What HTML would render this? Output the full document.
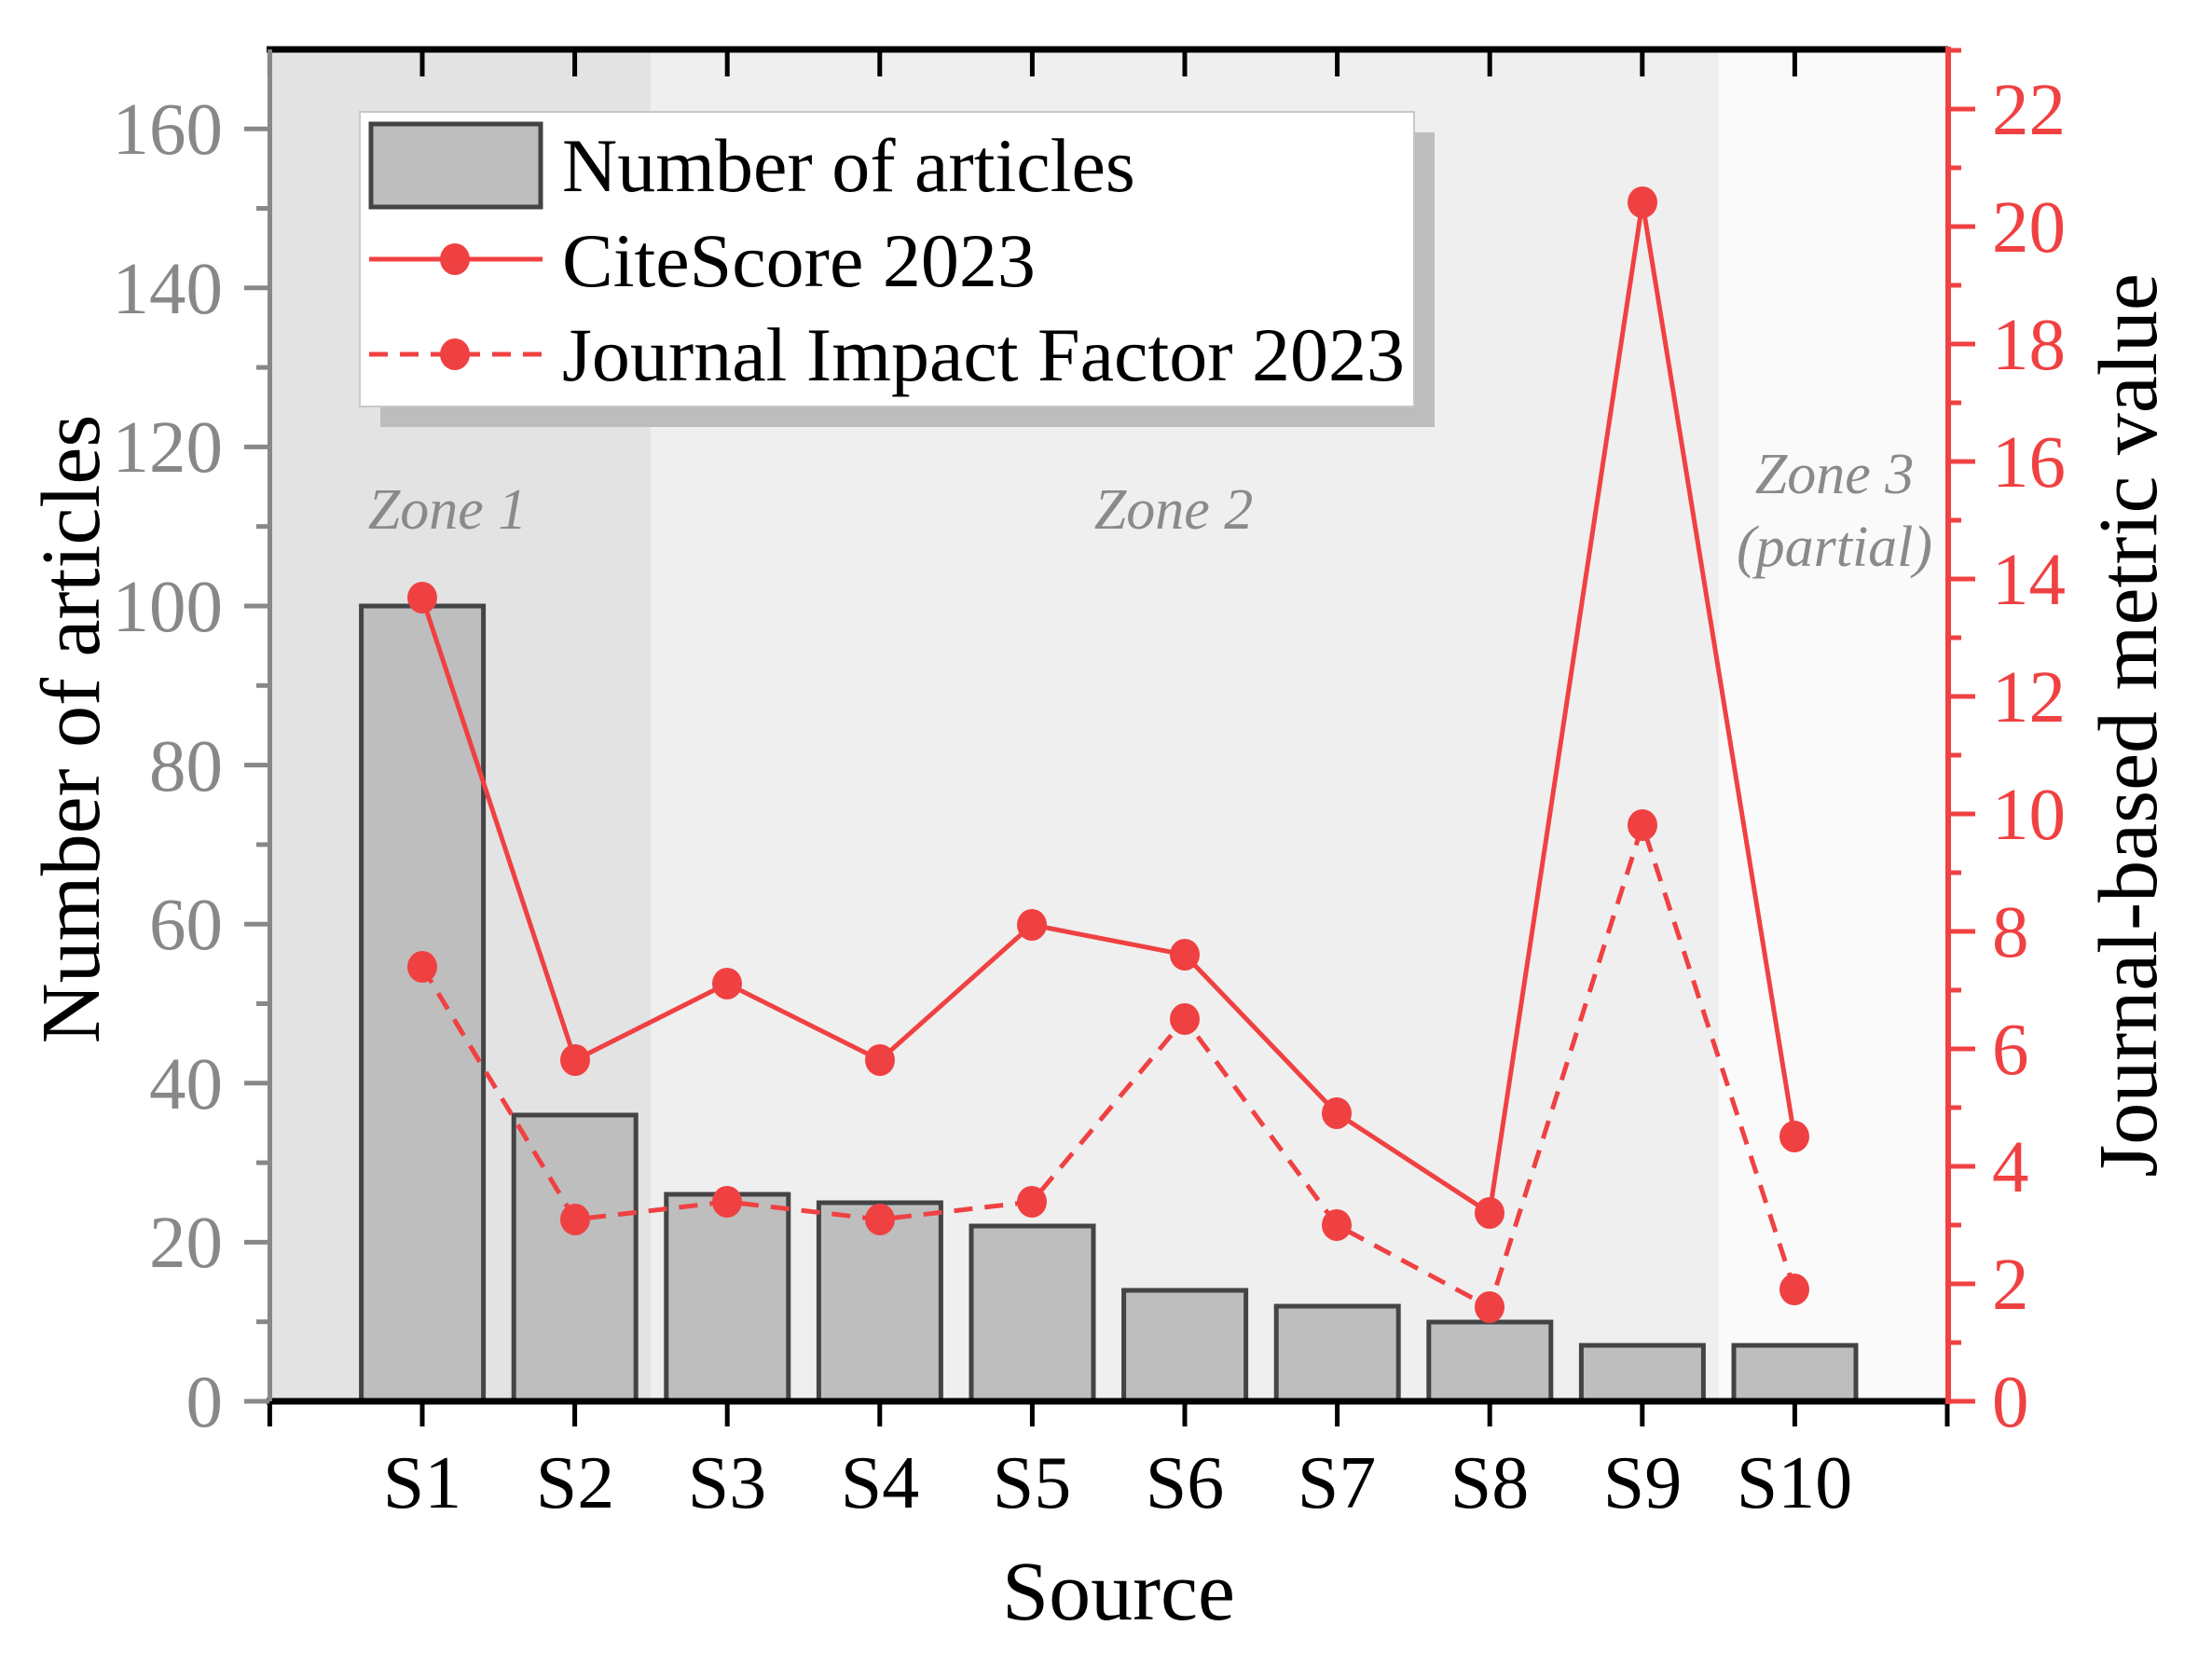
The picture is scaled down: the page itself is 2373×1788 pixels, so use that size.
<!DOCTYPE html>
<html><head><meta charset="utf-8"><style>html,body{margin:0;padding:0;background:#fff}svg{display:block}</style></head>
<body>
<svg width="2373" height="1788" viewBox="0 0 2373 1788" xmlns="http://www.w3.org/2000/svg" font-family="'Liberation Serif', serif">
<!-- zones -->
<rect x="289" y="53" width="409" height="1450" fill="#e3e3e3"/>
<rect x="698" y="53" width="1146" height="1450" fill="#efefef"/>
<rect x="1844" y="53" width="246" height="1450" fill="#fafafa"/>
<!-- zone labels -->
<g font-style="italic" fill="#8a8a8a" font-size="62" text-anchor="middle">
<text x="480" y="567">Zone 1</text>
<text x="1259" y="567">Zone 2</text>
<text x="1968" y="529">Zone 3</text>
<text x="1968" y="607">(partial)</text>
</g>
<!-- bars -->
<g fill="#bebebe" stroke="#444" stroke-width="5">
<rect x="387.6" y="650" width="131" height="853"/>
<rect x="551.2" y="1196" width="131" height="307"/>
<rect x="714.8" y="1281" width="131" height="222"/>
<rect x="878.4" y="1290" width="131" height="213"/>
<rect x="1042" y="1315" width="131" height="188"/>
<rect x="1205.6" y="1384" width="131" height="119"/>
<rect x="1369.2" y="1401" width="131" height="102"/>
<rect x="1532.8" y="1418" width="131" height="85"/>
<rect x="1696.4" y="1443" width="131" height="60"/>
<rect x="1860" y="1443" width="131" height="60"/>
</g>
<!-- lines -->
<g fill="none" stroke="#f04142" stroke-width="5">
<polyline points="453,641 617,1137 780,1055 944,1137 1107,992 1271,1024 1434,1194 1598,1301 1762,217 1925,1219"/>
<polyline stroke-dasharray="20,13" points="453,1037 617,1308 780,1289 944,1308 1107,1289 1271,1093 1434,1314 1598,1402 1762,885 1925,1383"/>
</g>
<g fill="#f04142">
<ellipse cx="453" cy="641" rx="16" ry="17"/><ellipse cx="617" cy="1137" rx="16" ry="17"/><ellipse cx="780" cy="1055" rx="16" ry="17"/><ellipse cx="944" cy="1137" rx="16" ry="17"/><ellipse cx="1107" cy="992" rx="16" ry="17"/><ellipse cx="1271" cy="1024" rx="16" ry="17"/><ellipse cx="1434" cy="1194" rx="16" ry="17"/><ellipse cx="1598" cy="1301" rx="16" ry="17"/><ellipse cx="1762" cy="217" rx="16" ry="17"/><ellipse cx="1925" cy="1219" rx="16" ry="17"/>
<ellipse cx="453" cy="1037" rx="16" ry="17"/><ellipse cx="617" cy="1308" rx="16" ry="17"/><ellipse cx="780" cy="1289" rx="16" ry="17"/><ellipse cx="944" cy="1308" rx="16" ry="17"/><ellipse cx="1107" cy="1289" rx="16" ry="17"/><ellipse cx="1271" cy="1093" rx="16" ry="17"/><ellipse cx="1434" cy="1314" rx="16" ry="17"/><ellipse cx="1598" cy="1402" rx="16" ry="17"/><ellipse cx="1762" cy="885" rx="16" ry="17"/><ellipse cx="1925" cy="1383" rx="16" ry="17"/>
</g>
<!-- legend -->
<rect x="408" y="142" width="1131" height="316" fill="#bdbdbd"/>
<rect x="386" y="120" width="1131" height="316" fill="#fff" stroke="#c8c8c8" stroke-width="2"/>
<rect x="398" y="133" width="182" height="89" fill="#bebebe" stroke="#444" stroke-width="5"/>
<line x1="396" y1="278" x2="582" y2="278" stroke="#f04142" stroke-width="5"/>
<ellipse cx="488" cy="278" rx="16" ry="17" fill="#f04142"/>
<line x1="396" y1="380" x2="582" y2="380" stroke="#f04142" stroke-width="5" stroke-dasharray="20,13"/>
<ellipse cx="488" cy="380" rx="16" ry="17" fill="#f04142"/>
<g font-size="82" fill="#000">
<text x="603" y="205">Number of articles</text>
<text x="603" y="307">CiteScore 2023</text>
<text x="603" y="408">Journal Impact Factor 2023</text>
</g>
<!-- top axis -->
<line x1="286" y1="53" x2="2090" y2="53" stroke="#000" stroke-width="7"/>
<g stroke="#000" stroke-width="5">
<line x1="289.4" y1="53" x2="289.4" y2="82"/><line x1="453" y1="53" x2="453" y2="82"/><line x1="616.6" y1="53" x2="616.6" y2="82"/><line x1="780.2" y1="53" x2="780.2" y2="82"/><line x1="943.8" y1="53" x2="943.8" y2="82"/><line x1="1107.4" y1="53" x2="1107.4" y2="82"/><line x1="1271" y1="53" x2="1271" y2="82"/><line x1="1434.6" y1="53" x2="1434.6" y2="82"/><line x1="1598.2" y1="53" x2="1598.2" y2="82"/><line x1="1761.8" y1="53" x2="1761.8" y2="82"/><line x1="1925.4" y1="53" x2="1925.4" y2="82"/>
</g>
<!-- bottom axis -->
<line x1="286" y1="1503" x2="2090" y2="1503" stroke="#000" stroke-width="7"/>
<g stroke="#000" stroke-width="5">
<line x1="289.4" y1="1503" x2="289.4" y2="1530"/><line x1="453" y1="1503" x2="453" y2="1530"/><line x1="616.6" y1="1503" x2="616.6" y2="1530"/><line x1="780.2" y1="1503" x2="780.2" y2="1530"/><line x1="943.8" y1="1503" x2="943.8" y2="1530"/><line x1="1107.4" y1="1503" x2="1107.4" y2="1530"/><line x1="1271" y1="1503" x2="1271" y2="1530"/><line x1="1434.6" y1="1503" x2="1434.6" y2="1530"/><line x1="1598.2" y1="1503" x2="1598.2" y2="1530"/><line x1="1761.8" y1="1503" x2="1761.8" y2="1530"/><line x1="1925.4" y1="1503" x2="1925.4" y2="1530"/><line x1="2089" y1="1503" x2="2089" y2="1530"/>
</g>
<g font-size="80" text-anchor="middle" fill="#000">
<text x="453" y="1617">S1</text><text x="617" y="1617">S2</text><text x="780" y="1617">S3</text><text x="944" y="1617">S4</text><text x="1107" y="1617">S5</text><text x="1271" y="1617">S6</text><text x="1434" y="1617">S7</text><text x="1598" y="1617">S8</text><text x="1762" y="1617">S9</text><text x="1925" y="1617">S10</text>
</g>
<text x="1200" y="1737" font-size="90" text-anchor="middle">Source</text>
<!-- left axis -->
<line x1="289.5" y1="53" x2="289.5" y2="1503" stroke="#888" stroke-width="5"/>
<g stroke="#888" stroke-width="5">
<line x1="262" y1="1503" x2="289" y2="1503"/><line x1="262" y1="1332.4" x2="289" y2="1332.4"/><line x1="262" y1="1161.8" x2="289" y2="1161.8"/><line x1="262" y1="991.2" x2="289" y2="991.2"/><line x1="262" y1="820.6" x2="289" y2="820.6"/><line x1="262" y1="650" x2="289" y2="650"/><line x1="262" y1="479.4" x2="289" y2="479.4"/><line x1="262" y1="308.8" x2="289" y2="308.8"/><line x1="262" y1="138.2" x2="289" y2="138.2"/>
<line x1="275" y1="1417.7" x2="289" y2="1417.7"/><line x1="275" y1="1247.1" x2="289" y2="1247.1"/><line x1="275" y1="1076.5" x2="289" y2="1076.5"/><line x1="275" y1="905.9" x2="289" y2="905.9"/><line x1="275" y1="735.3" x2="289" y2="735.3"/><line x1="275" y1="564.7" x2="289" y2="564.7"/><line x1="275" y1="394.1" x2="289" y2="394.1"/><line x1="275" y1="223.5" x2="289" y2="223.5"/>
</g>
<g font-size="79" fill="#888" text-anchor="end">
<text x="239" y="1530">0</text><text x="239" y="1359">20</text><text x="239" y="1189">40</text><text x="239" y="1018">60</text><text x="239" y="848">80</text><text x="239" y="677">100</text><text x="239" y="506">120</text><text x="239" y="336">140</text><text x="239" y="165">160</text>
</g>
<text transform="translate(106,782) rotate(-90)" font-size="90" text-anchor="middle">Number of articles</text>
<!-- right axis -->
<line x1="2090" y1="50" x2="2090" y2="1506" stroke="#f04142" stroke-width="6"/>
<g stroke="#f04142" stroke-width="5">
<line x1="2090" y1="1503" x2="2119" y2="1503"/><line x1="2090" y1="1377" x2="2119" y2="1377"/><line x1="2090" y1="1251" x2="2119" y2="1251"/><line x1="2090" y1="1125" x2="2119" y2="1125"/><line x1="2090" y1="999" x2="2119" y2="999"/><line x1="2090" y1="873" x2="2119" y2="873"/><line x1="2090" y1="747" x2="2119" y2="747"/><line x1="2090" y1="621" x2="2119" y2="621"/><line x1="2090" y1="495" x2="2119" y2="495"/><line x1="2090" y1="369" x2="2119" y2="369"/><line x1="2090" y1="243" x2="2119" y2="243"/><line x1="2090" y1="117" x2="2119" y2="117"/>
<line x1="2090" y1="1440" x2="2104" y2="1440"/><line x1="2090" y1="1314" x2="2104" y2="1314"/><line x1="2090" y1="1188" x2="2104" y2="1188"/><line x1="2090" y1="1062" x2="2104" y2="1062"/><line x1="2090" y1="936" x2="2104" y2="936"/><line x1="2090" y1="810" x2="2104" y2="810"/><line x1="2090" y1="684" x2="2104" y2="684"/><line x1="2090" y1="558" x2="2104" y2="558"/><line x1="2090" y1="432" x2="2104" y2="432"/><line x1="2090" y1="306" x2="2104" y2="306"/><line x1="2090" y1="180" x2="2104" y2="180"/><line x1="2090" y1="54" x2="2104" y2="54"/>
</g>
<g font-size="79" fill="#f04142">
<text x="2137" y="1530">0</text><text x="2137" y="1404">2</text><text x="2137" y="1278">4</text><text x="2137" y="1152">6</text><text x="2137" y="1026">8</text><text x="2137" y="900">10</text><text x="2137" y="774">12</text><text x="2137" y="648">14</text><text x="2137" y="522">16</text><text x="2137" y="396">18</text><text x="2137" y="270">20</text><text x="2137" y="144">22</text>
</g>
<text transform="translate(2313,778) rotate(-90)" font-size="90" text-anchor="middle">Journal-based metric value</text>
</svg>
</body></html>
